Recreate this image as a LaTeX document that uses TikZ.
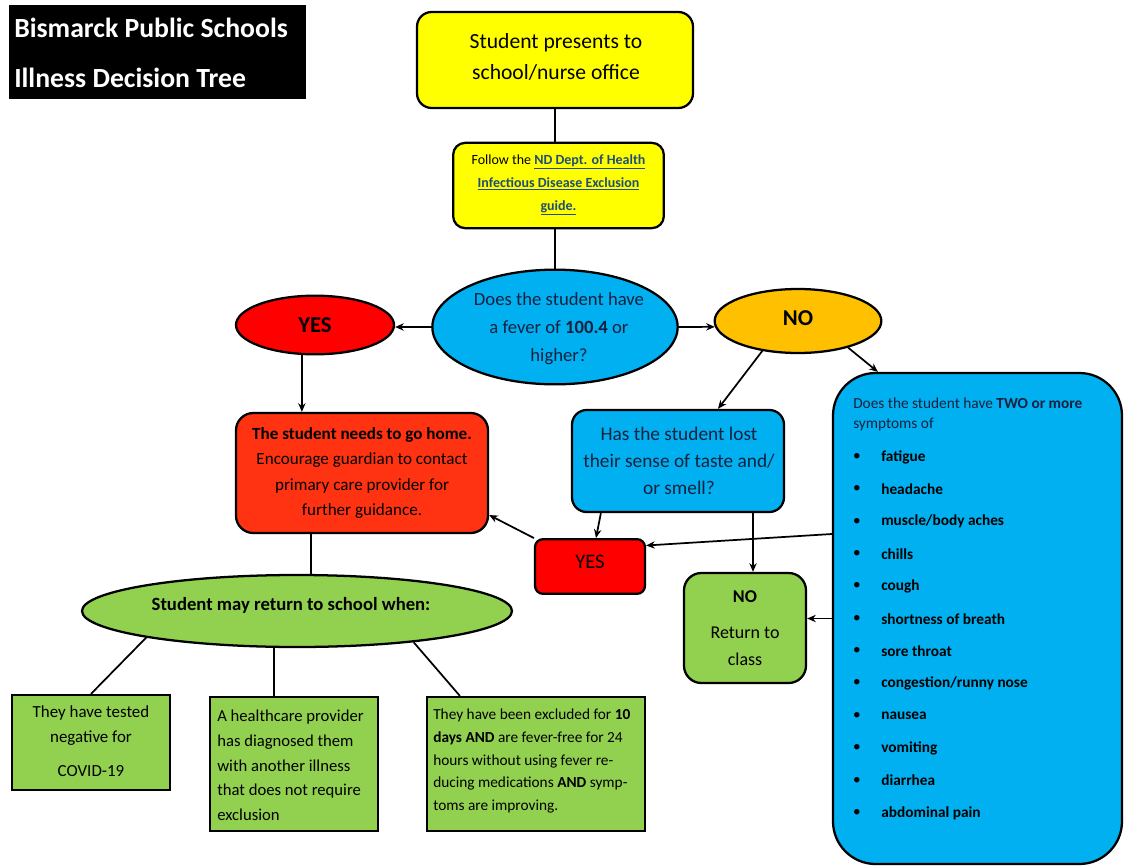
\documentclass[tikz,border=0pt]{standalone}
\usepackage{fontspec}
\setmainfont{Carlito}
\usetikzlibrary{shapes.geometric,arrows.meta,calc}
\definecolor{ylw}{HTML}{FFFF00}
\definecolor{cyb}{HTML}{00B0F0}
\definecolor{redf}{HTML}{FF0000}
\definecolor{orf}{HTML}{FFC000}
\definecolor{redbx}{HTML}{FF3312}
\definecolor{grn}{HTML}{92D050}
\definecolor{lnk}{HTML}{1F4E79}
\definecolor{navy}{HTML}{16213F}
\begin{document}
\begin{tikzpicture}[x=0.75pt,y=-0.75pt,
  shp/.style={draw, line width=1.7pt, inner sep=0pt},
  rbox/.style={shp, rectangle, rounded corners=#1},
  ell/.style={shp, ellipse},
  txt/.style={inner sep=0pt, align=center},
  conn/.style={line width=1.3pt},
  arr/.style={conn, -{Stealth[length=6.5pt,width=5.5pt]}},
  fs/.style 2 args={font=\fontsize{#1}{#2}\selectfont}
]
\useasboundingbox (0,0) rectangle (1124,867);

% title
\node[draw=black, fill=black, inner sep=0pt, minimum width=222pt, minimum height=69.75pt] (title) at (157,51.5) {};
\node[inner sep=0pt, anchor=west, text=white, fs={20.8}{24}] (title1) at (14,28) {\bfseries Bismarck Public Schools};
\node[inner sep=0pt, anchor=west, text=white, fs={20.8}{24}] (title2) at (14,78) {\bfseries Illness Decision Tree};

% top boxes
\node[rbox=11pt, fill=ylw, minimum width=207pt, minimum height=72pt] (top) at (555,60) {};
\node[txt, fs={16.2}{23.25}] (toptxt) at (556,56.5) {Student presents to\\school/nurse office};

\node[rbox=9pt, fill=ylw, minimum width=158pt, minimum height=64pt] (follow) at (558.5,185.5) {};
\node[txt, fs={10.5}{17.25}] (followtxt) at (558.5,185) {Follow the \textcolor{lnk}{\bfseries\underline{ND Dept. of Health}}\\
\textcolor{lnk}{\bfseries\underline{Infectious Disease Exclusion}}\\
\textcolor{lnk}{\bfseries\underline{guide.}}};

% fever question
\node[ell, fill=cyb, minimum width=184pt, minimum height=86pt] (fever) at (555,327) {};
\node[txt, text=navy, fs={14}{21}] (fevertxt) at (559,329) {Does the student have\\a fever of \textbf{100.4} or\\higher?};

\node[ell, fill=redf, minimum width=118.5pt, minimum height=44pt] (yes1) at (315,325) {};
\node[txt, fs={17}{20}] (yes1txt) at (315,325) {\bfseries YES};

\node[ell, fill=orf, minimum width=125pt, minimum height=48pt] (no1) at (798,321) {};
\node[txt, fs={17}{20}] (no1txt) at (798,318) {\bfseries NO};

% red box
\node[rbox=13pt, fill=redbx, minimum width=189pt, minimum height=90pt] (home) at (362,473) {};
\node[txt, fs={12.8}{19}] (hometxt) at (362,473) {\textbf{The student needs to go home.}\\Encourage guardian to contact\\primary care provider for\\further guidance.};

% taste box
\node[rbox=11pt, fill=cyb, minimum width=159pt, minimum height=76.5pt] (taste) at (678,461) {};
\node[txt, text=navy, fs={14.5}{20}] (tastetxt) at (679,461) {Has the student lost\\their sense of taste and/\\or smell?};

% yes box
\node[rbox=6pt, fill=redf, minimum width=82.5pt, minimum height=41pt] (yes2) at (590,566.5) {};
\node[txt, fs={15.5}{18}] (yes2txt) at (590,562) {YES};

% no box
\node[rbox=13pt, fill=grn, minimum width=91.5pt, minimum height=82.5pt] (no2) at (745,628) {};
\node[txt, fs={13.5}{16}] (no2a) at (745,597) {\bfseries NO};
\node[txt, fs={13.5}{20.25}] (no2b) at (745,646.5) {Return to\\class};

% big symptoms box
\node[rbox=32pt, fill=cyb, minimum width=216.75pt, minimum height=368.25pt] (big) at (977.5,618.5) {};
\node[inner sep=0pt, anchor=west, text=navy, fs={11.5}{14}] (bigq1) at (853,403) {Does the student have \textbf{TWO or more}};
\node[inner sep=0pt, anchor=west, text=navy, fs={11.5}{14}] (bigq2) at (853,424) {symptoms of};
\foreach \s [count=\i] in {fatigue,headache,muscle/body aches,chills,cough,shortness of breath,sore throat,congestion/runny nose,nausea,vomiting,diarrhea,abdominal pain}{
  \node[inner sep=0pt, fs={11.5}{14}] (bul\i) at (857,{457+32.35*(\i-1)}) {\textbullet};
  \node[inner sep=0pt, anchor=west, fs={11.5}{14}] (sym\i) at (881,{457+32.35*(\i-1)}) {\bfseries \s};
}

% return ellipse
\node[ell, fill=grn, minimum width=322.5pt, minimum height=54pt] (mayret) at (297,611) {};
\node[txt, fs={14}{16}] (mayrettxt) at (291,605) {\bfseries Student may return to school when:};

% bottom boxes
\node[shp, fill=grn, minimum width=118.5pt, minimum height=71.25pt] (box1) at (91,742.5) {};
\node[txt, fs={12.7}{18.75}] (box1a) at (91,725.5) {They have tested\\negative for};
\node[txt, fs={12.7}{18.75}] (box1b) at (91,771) {COVID-19};

\node[shp, fill=grn, minimum width=126pt, minimum height=100.5pt] (box2) at (294,764) {};
\node[inner sep=0pt, anchor=west, align=left, fs={12.5}{18.56}] (box2txt) at (217,765.5) {A healthcare provider\\has diagnosed them\\with another illness\\that does not require\\exclusion};

\node[shp, fill=grn, minimum width=163.5pt, minimum height=100.5pt] (box3) at (536,764) {};
\node[inner sep=0pt, anchor=west, align=left, fs={11.5}{16.9}] (box3txt) at (433,761) {They have been excluded for \textbf{10}\\
\textbf{days AND} are fever-free for 24\\
hours without using fever re-\\
ducing medications \textbf{AND} symp-\\
toms are improving.};

% connectors
\draw[conn] (top.south) -- (top.south |- follow.north);
\draw[conn] (top.south |- follow.south) -- (top.south |- fever.north);
\draw[arr] (fever.west) -- (fever.west -| yes1.east);
\draw[arr] (fever.east) -- (no1.184);
\draw[arr] (no1.-28) -- ($(big.north west)+(46,0)$);
\draw[arr] (no1.-140) -- ($(taste.north)+(40,0)$);
\coordinate (homein) at ($(home.north west)+(67,0)$);
\draw[arr] (homein |- yes1.south) -- (homein);
\draw[arr] ($(taste.south west)+(30,0)$) -- ($(yes2.north)+(6,0)$);
\coordinate (noin) at ($(no2.north)+(8,0)$);
\draw[arr] (noin |- taste.south) -- (noin);
\draw[arr] (yes2.north west) -- ($(home.east)+(0,42)$);
\draw[arr] ($(big.west)+(0,-84.5)$) -- ($(yes2.east)+(0,-21)$);
\draw[arr] (big.west) -- (big.west -| no2.east);
\coordinate (homeout) at ($(home.south west)+(76,0)$);
\draw[conn] (homeout) -- (homeout |- mayret.north);
\draw[conn] (mayret.-170) -- (box1.north);
\coordinate (b2in) at ($(box2.north west)+(65,0)$);
\draw[conn] (b2in |- mayret.south) -- (b2in);
\draw[conn] (mayret.-15.5) -- ($(box3.north west)+(34,0)$);
\end{tikzpicture}
\end{document}
